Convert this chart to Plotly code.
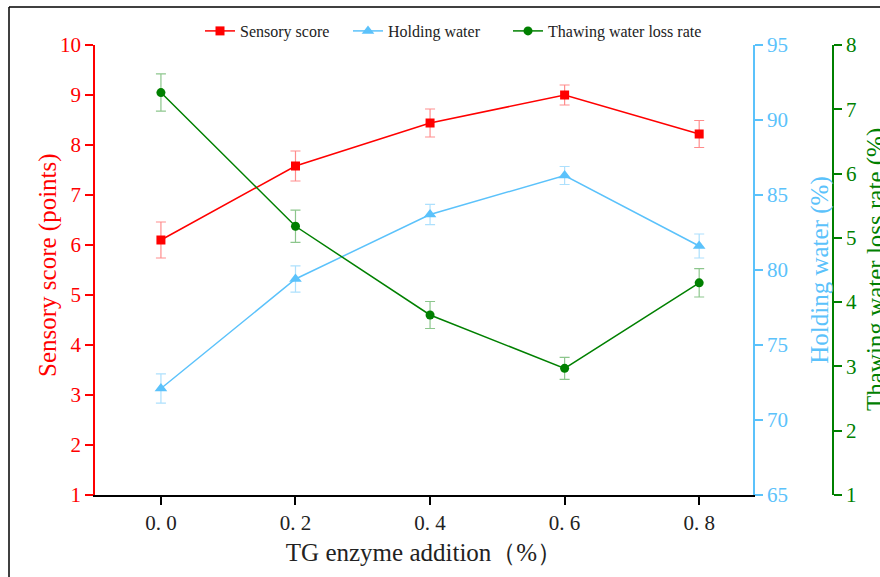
import plotly.graph_objects as go

x_vals = [0.0, 0.2, 0.4, 0.6, 0.8]
x_ticktext = ["0. 0", "0. 2", "0. 4", "0. 6", "0. 8"]

sensory = [6.10, 7.58, 8.44, 9.00, 8.22]
sensory_err = [0.36, 0.30, 0.28, 0.20, 0.27]

holding = [72.1, 79.4, 83.7, 86.3, 81.6]
holding_err = [0.97, 0.87, 0.67, 0.60, 0.80]

thawing = [7.26, 5.18, 3.80, 2.97, 4.30]
thawing_err = [0.29, 0.25, 0.21, 0.17, 0.22]

RED = "#ff0000"
BLUE = "#5bc2fb"
GREEN = "#008000"
FONT = "Liberation Serif"

fig = go.Figure()
fig.add_trace(go.Scatter(
    x=x_vals, y=sensory, name="Sensory score", mode="lines+markers",
    line=dict(color=RED, width=1.5), marker=dict(symbol="square", size=9, color=RED),
    error_y=dict(type="data", array=sensory_err, color="rgba(255,0,0,0.45)", thickness=1.2, width=5),
    yaxis="y", legend="legend"))
fig.add_trace(go.Scatter(
    x=x_vals, y=holding, name="Holding water", mode="lines+markers",
    line=dict(color=BLUE, width=1.5), marker=dict(symbol="triangle-up", size=11, color=BLUE),
    error_y=dict(type="data", array=holding_err, color="rgba(91,194,251,0.5)", thickness=1.2, width=5),
    yaxis="y2", legend="legend2"))
fig.add_trace(go.Scatter(
    x=x_vals, y=thawing, name="Thawing water loss rate", mode="lines+markers",
    line=dict(color=GREEN, width=1.5), marker=dict(symbol="circle", size=9, color=GREEN),
    error_y=dict(type="data", array=thawing_err, color="rgba(0,128,0,0.45)", thickness=1.2, width=5),
    yaxis="y3", legend="legend3"))

L, R, T, B = 95, 0, 45, 82
W, H = 880, 577
pw = W - L - R
ph = H - T - B


def leg(px):
    return dict(orientation="h", x=(px - L) / pw, y=(495 - 31) / ph, xanchor="left", yanchor="middle",
                font=dict(family=FONT, size=16, color="#222"), bgcolor="rgba(0,0,0,0)")


fig.update_layout(
    width=W, height=H,
    margin=dict(l=L, r=R, t=T, b=B),
    plot_bgcolor="white", paper_bgcolor="white",
    font=dict(family=FONT, size=21, color="black"),
    showlegend=True,
    legend=leg(200), legend2=leg(348), legend3=leg(508),
    xaxis=dict(domain=[0, (753 - L) / pw], range=[-0.098, 0.88],
               tickvals=x_vals, ticktext=x_ticktext, showgrid=False, zeroline=False,
               showline=True, linecolor="black", linewidth=1.5,
               ticks="outside", ticklen=8, tickcolor="black", tickwidth=1.5,
               tickfont=dict(family=FONT, size=21, color="#222"),
               title=dict(text="TG enzyme addition（%）", font=dict(family=FONT, size=25, color="#222"), standoff=10)),
    yaxis=dict(range=[1, 10], dtick=1, showgrid=False, zeroline=False,
               showline=True, linecolor=RED, linewidth=1.5,
               ticks="outside", ticklen=8, tickcolor=RED, tickwidth=1.5,
               tickfont=dict(family=FONT, size=21, color=RED)),
    yaxis2=dict(range=[65, 95], dtick=5, overlaying="y", side="right", anchor="x",
                showgrid=False, zeroline=False,
                showline=True, linecolor=BLUE, linewidth=1.5,
                ticks="outside", ticklen=8, tickcolor=BLUE, tickwidth=1.5,
                tickfont=dict(family=FONT, size=21, color=BLUE),
                title=dict(text="Holding water (%)", font=dict(family=FONT, size=25, color=BLUE), standoff=24)),
    yaxis3=dict(range=[1, 8], dtick=1, overlaying="y", side="right", anchor="free",
                position=(833 - L) / pw, showgrid=False, zeroline=False,
                showline=True, linecolor=GREEN, linewidth=1.5,
                ticks="outside", ticklen=8, tickcolor=GREEN, tickwidth=1.5,
                tickfont=dict(family=FONT, size=21, color=GREEN),
                automargin=False),
)

# y-axis titles placed precisely (the right-most one runs off the edge, as in the reference)
fig.add_annotation(text="Sensory score (points)", xref="paper", yref="paper",
                   x=(48 - L) / pw, y=(495 - 265) / ph, xanchor="center", yanchor="middle",
                   textangle=-90, showarrow=False, font=dict(family=FONT, size=25, color=RED))
fig.add_annotation(text="Thawing water loss rate (%)", xref="paper", yref="paper",
                   x=(876 - L) / pw, y=(495 - 270) / ph, xanchor="center", yanchor="middle",
                   textangle=-90, showarrow=False, font=dict(family=FONT, size=25, color=GREEN))

# outer frame lines (top and left) as in the reference
ytop = (H - B - 7) / ph
xleft = (9 - L) / pw
fig.add_shape(type="line", xref="paper", yref="paper",
              x0=xleft, x1=(W - L) / pw, y0=ytop, y1=ytop,
              line=dict(color="black", width=1.5))
fig.add_shape(type="line", xref="paper", yref="paper",
              x0=xleft, x1=xleft, y0=ytop, y1=-B / ph,
              line=dict(color="black", width=1.5))

fig.write_html("out.html", config={"displayModeBar": False},
               post_script="document.body.style.margin='0';")
